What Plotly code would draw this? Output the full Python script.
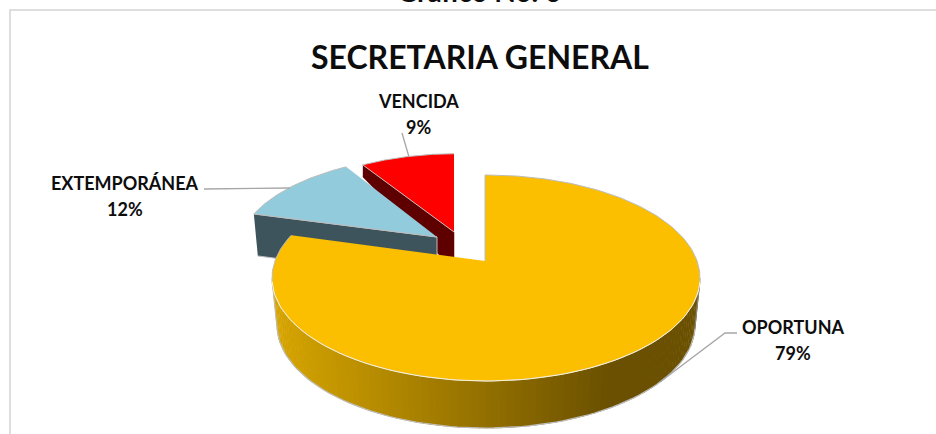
import math
import plotly.graph_objects as go

# ---- data ----
categories = ["OPORTUNA", "EXTEMPORÁNEA", "VENCIDA"]
values = [79, 12, 9]
top_colors = ["#FCBF00", "#92CBDC", "#FF0000"]
side_colors = ["#8A6A00", "#3E545C", "#5E0000"]
title_text = "SECRETARIA GENERAL"
caption_text = "Gráfico No. 6"

# ---- geometry of the tilted pie (pixels of a 936x434 canvas) ----
W, H = 936, 434
APEX = [(485, 261), (437, 237), (454, 232)]
SCALE = [1.0, 0.94, 0.91]
TILT = [0.52, 0.49, 0.467]
RX, RY, CDY = 214, 103, 17


def rim_point(i, frac):
    """Point on slice i's rim at fraction frac of the full turn (clockwise from top)."""
    th = 2 * math.pi * frac
    dx, dy = math.sin(th), -TILT[i] * math.cos(th)
    s = SCALE[i]
    rx, ry, cx, cy = RX * s, RY * s, 1 * s, CDY * s
    a = (dx / rx) ** 2 + (dy / ry) ** 2
    b = -2 * (dx * cx / rx ** 2 + dy * cy / ry ** 2)
    c = (cx / rx) ** 2 + (cy / ry) ** 2 - 1
    t = (-b + math.sqrt(b * b - 4 * a * c)) / (2 * a)
    return APEX[i][0] + dx * t, APEX[i][1] + dy * t


def arc(i, f0, f1, n=120):
    return [rim_point(i, f0 + (f1 - f0) * k / n) for k in range(n + 1)]


def poly(fig, pts, fill, line=None, width=1):
    xs = [p[0] for p in pts]
    ys = [p[1] for p in pts]
    fig.add_trace(go.Scatter(
        x=xs, y=ys, mode="lines", fill="toself", fillcolor=fill,
        line=dict(color=line or fill, width=width if line else 0.5),
        hoverinfo="skip", showlegend=False))


def stroke(fig, pts, color, width=1.2):
    fig.add_trace(go.Scatter(
        x=[p[0] for p in pts], y=[p[1] for p in pts], mode="lines",
        line=dict(color=color, width=width), hoverinfo="skip", showlegend=False))


total = sum(values)
fracs = [0]
for v in values:
    fracs.append(fracs[-1] + v / total)

fig = go.Figure()
EDGE = "#BDBDBD"

# VENCIDA: cut face, then top
arc_red = arc(2, fracs[2], fracs[3])
p0 = arc_red[0]
poly(fig, [p0, APEX[2], (APEX[2][0], APEX[2][1] + 38), (p0[0], p0[1] + 12)], side_colors[2])
poly(fig, [APEX[2]] + arc_red, top_colors[2], EDGE, 1)

# EXTEMPORÁNEA: cut face, then top
arc_blue = arc(1, fracs[1], fracs[2])
p0 = arc_blue[0]
poly(fig, [p0, APEX[1], (APEX[1][0], APEX[1][1] + 42), (p0[0] + 4, p0[1] + 42)], side_colors[1], EDGE, 1)
poly(fig, [APEX[1]] + arc_blue, top_colors[1], EDGE, 1)

# OPORTUNA: outer wall with a left-to-right shading
CX, CY = 486, 278
BX, BY = 486, 325
BRX = 209
N = 90
T0, T1 = 268, 92


def wall_color(x):
    u = min(1, max(0, (x - 272) / (610 - 272)))
    a, b = (216, 166, 0), (106, 80, 0)
    return "rgb(%d,%d,%d)" % tuple(round(a[j] + (b[j] - a[j]) * u) for j in range(3))


def top_e(t):
    return CX + RX * math.sin(math.radians(t)), CY - RY * math.cos(math.radians(t))


def bot_e(t):
    return BX + BRX * math.sin(math.radians(t)), BY - RY * math.cos(math.radians(t))


for k in range(N):
    t0 = T0 + (T1 - T0) * k / N
    t1 = T0 + (T1 - T0) * (k + 1.15) / N
    q = [top_e(t0), top_e(t1), bot_e(t1), bot_e(t0)]
    poly(fig, q, wall_color(sum(p[0] for p in q) / 4))

stroke(fig, [bot_e(T0 + (T1 - T0) * k / N) for k in range(N + 1)], EDGE, 1.2)
stroke(fig, [(272, 278), bot_e(T0)], EDGE, 1)
stroke(fig, [(700, 278), bot_e(T1)], "#8C8C8C", 1)

# OPORTUNA: top
arc_yel = arc(0, fracs[0], fracs[1], 240)
poly(fig, [APEX[0]] + arc_yel, top_colors[0], EDGE, 1)
stroke(fig, [top_e(T0 + (T1 - T0) * k / N) for k in range(N + 1)], "#FFF4CC", 1)

# leader lines
LEADER = "#A6A6A6"
stroke(fig, [(402, 133), (409, 157)], LEADER, 1.3)
stroke(fig, [(204, 189), (290, 188)], LEADER, 1.3)
stroke(fig, [(737, 333), (725, 333), (660, 382)], LEADER, 1.3)

# frame lines
FRAME = "#DEDEDE"
stroke(fig, [(W + 2, 10), (10, 10), (10, H + 2)], FRAME, 2)

# labels: name line and percent line, placed separately for the line spacing
label_pos = [(793, 327, 353), (125, 183, 209), (418, 101, 127)]
anns = []
for name, v, (x, y1, y2) in zip(categories, values, label_pos):
    for txt, y in ((name, y1), (f"{v}%", y2)):
        anns.append(dict(x=x, y=y, text=f"<b>{txt}</b>", showarrow=False,
                         font=dict(family="Lato", size=18, color="#0D0D0D"),
                         xanchor="center", yanchor="middle"))
anns.append(dict(x=480, y=56, text=f"<b>{title_text}</b>", showarrow=False,
                 font=dict(family="Lato", size=32, color="#0D0D0D"),
                 xanchor="center", yanchor="middle"))
anns.append(dict(x=479, y=10, text=f"<b>{caption_text}</b>", showarrow=False,
                 font=dict(family="Lato", size=28, color="#0D0D0D"),
                 xanchor="center", yanchor="bottom"))

fig.update_layout(
    width=W, height=H, margin=dict(l=0, r=0, t=0, b=0),
    paper_bgcolor="white", plot_bgcolor="white", showlegend=False,
    annotations=anns,
    xaxis=dict(range=[0, W], visible=False, fixedrange=True),
    yaxis=dict(range=[H, 0], visible=False, fixedrange=True),
)
fig.write_html("out.html", config=dict(displayModeBar=False),
               post_script="document.body.style.margin='0';document.documentElement.style.overflow='hidden';")
